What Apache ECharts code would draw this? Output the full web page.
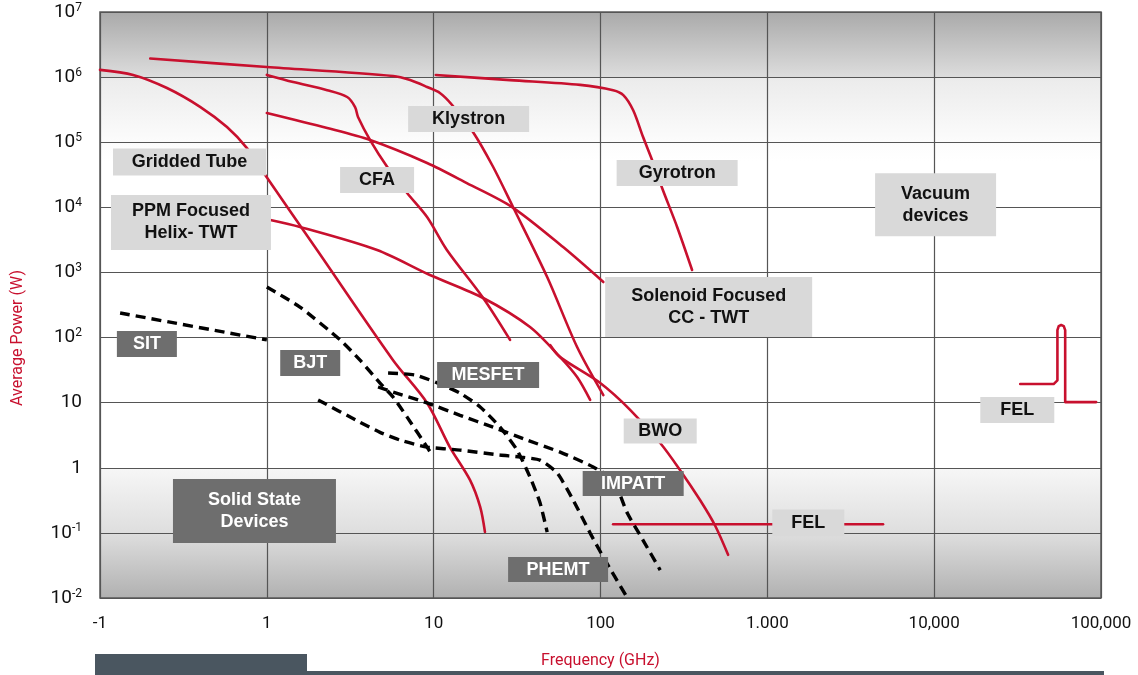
<!DOCTYPE html>
<html>
<head>
<meta charset="utf-8">
<script src="https://cdn.jsdelivr.net/npm/echarts@6/dist/echarts.min.js"></script>
<style>
  html, body { margin: 0; padding: 0; background: #ffffff; }
  #chart { width: 1138px; height: 675px; }
</style>
</head>
<body>
<div id="chart"></div>
<script>
// ---------------- data (frequency GHz, average power W) ----------------
const xTickLabels = ['-1', '1', '10', '100', '1.000', '10,000', '100,000'];
const yTickLabels = ['{b|10}{s|-2}', '{b|10}{s|-1}', '{b|1}', '{b|10}', '{b|10}{s|2}', '{b|10}{s|3}', '{b|10}{s|4}', '{b|10}{s|5}', '{b|10}{s|6}', '{b|10}{s|7}'];

const griddedTube = [[0.1, 1.29e6], [0.158, 1.08e6], [0.252, 6.8e5], [0.4, 3.47e5], [0.577, 1.71e5], [0.76, 8.1e4], [0.98, 3.1e4], [2.0, 2.21e3], [5.71, 45], [9.13, 9.9], [12.5, 2.08], [16.5, 0.65], [19.0, 0.25], [20.3, 0.103]];
const klystron = [[0.2, 1.93e6], [1.0, 1.43e6], [5.71, 1.04e6], [7.23, 9.0e5], [9.13, 7.05e5], [10.9, 5.7e5], [12.9, 3.73e5], [17.2, 1.44e5], [22.7, 4.2e4], [29.9, 1.01e4], [47.9, 850], [72.4, 71.5], [104, 13.1]];
const cfaUpper = [[1.0, 1.08e6], [1.44, 8.4e5], [2.3, 6.3e5], [3.03, 4.95e5], [3.38, 3.47e5], [3.52, 2.44e5], [4.16, 1.08e5], [5.26, 4.2e4], [6.93, 1.66e4], [9.13, 7.1e3], [12.0, 2.21e3], [19.8, 405], [28.7, 92]];
const cfaLower = [[1.0, 2.81e5], [2.3, 1.65e5], [4.16, 1.08e5], [9.13, 4.8e4], [15.8, 2.36e4], [29.5, 1.01e4], [59.7, 2.45e3], [104, 713]];
const ppmHelixTwt = [[1.05, 6.4e3], [1.58, 5.0e3], [4.58, 2.21e3], [9.5, 912], [19.8, 405], [37.8, 145], [57.3, 50], [72.4, 24.7], [86.7, 11]];
const bwo = [[49.9, 76.7], [57.3, 50], [99.6, 20], [151, 7.7], [228, 2.4], [300, 0.92], [395, 0.32], [486, 0.13], [582, 0.046]];
const gyrotron = [[10.3, 1.08e6], [28.7, 9.0e5], [75.5, 7.6e5], [119, 6.3e5], [137, 5.3e5], [157, 3.1e5], [180, 1.2e5], [204, 5.3e4], [234, 1.98e4], [288, 5.0e3], [354, 1.09e3]];
const felLow = [[119, 0.136], [4940, 0.136]];
const felHigh = [[32800, 19.3], [52000, 19.3], [54800, 22], [54800, 130], [55800, 150], [57700, 156], [59800, 150], [61000, 130], [61000, 10.2], [93500, 10.2]];

const sit = [[0.132, 238], [1.0, 92]];
const bjt = [[1.0, 597], [1.58, 294], [2.75, 92], [3.62, 45], [4.77, 20], [5.71, 12.2], [6.93, 6.0], [9.13, 2.08], [9.78, 1.57]];
const mesfet = [[5.33, 28.5], [7.74, 26.6], [10.6, 20], [14.4, 14.0], [19.0, 8.6], [25.0, 4.2], [31.6, 1.87], [37.8, 0.72], [43.4, 0.29], [47.9, 0.103]];
const impatt = [[4.64, 17.4], [5.71, 14.6], [9.13, 9.9], [14.4, 6.4], [22.7, 4.2], [36.3, 2.66], [57.3, 1.74], [90.4, 1.03], [119, 0.65], [145, 0.20], [180, 0.077], [228, 0.0268]];
const phemt = [[2.03, 11], [3.62, 5.0], [4.77, 3.5], [6.3, 2.66], [9.13, 2.08], [14.4, 1.87], [25.0, 1.57], [33.0, 1.46], [43.4, 1.31], [55.0, 0.83], [68.5, 0.32], [86.7, 0.0993], [104, 0.0425], [145, 0.01]];

const lightLabels = ['Gridded Tube', 'PPM Focused\nHelix- TWT', 'CFA', 'Klystron', 'Gyrotron', 'Vacuum\ndevices', 'Solenoid Focused\nCC - TWT', 'BWO', 'FEL', 'FEL'];
const lightAnchors = [[0.344, 4.97e4], [0.351, 5850], [4.58, 2.62e4], [16.2, 2.27e5], [288, 3.37e4], [10200, 1.1e4], [445, 294], [228, 3.66], [31500, 7.7], [1760, 0.1416]];
const darkLabels = ['SIT', 'BJT', 'MESFET', 'IMPATT', 'PHEMT', 'Solid State\nDevices'];
const darkAnchors = [[0.191, 79.4], [1.82, 40.6], [21.2, 26.6], [157, 0.571], [55.7, 0.0273], [0.843, 0.216]];

// ---------------- styles ----------------
const RED = '#c8102e';
const lightBoxSizes = [[153, 27], [160, 55], [74, 26], [121, 26], [121, 26], [121, 63], [207, 60], [73, 25], [74, 26], [72, 27]];
const darkBoxSizes = [[60, 26], [60, 26], [102, 26], [101, 25], [100, 25], [163, 64]];

function redLine(name, data, smooth) {
  return { name, type: 'line', data, symbol: 'none', smooth: smooth === undefined ? 0.3 : smooth, silent: true, z: 3,
    lineStyle: { color: RED, width: 2.6, cap: 'round', join: 'round' } };
}
function dashLine(name, data) {
  return { name, type: 'line', data, symbol: 'none', smooth: 0.2, silent: true, z: 4,
    lineStyle: { color: '#000000', width: 3.4, type: [10, 6] } };
}
function boxes(name, labels, anchors, sizes, bg, fg) {
  return {
    name, type: 'scatter', symbolSize: 0, silent: true, z: 10,
    itemStyle: { opacity: 1 },
    data: labels.map((t, i) => ({
      name: t, value: anchors[i],
      label: {
        show: true, position: 'inside', formatter: t, opacity: 1,
        width: sizes[i][0], height: sizes[i][1], backgroundColor: bg, color: fg,
        fontFamily: '"Liberation Sans", Arial, sans-serif', fontWeight: 'bold', fontSize: 18,
        lineHeight: 22, align: 'center', verticalAlign: 'middle'
      }
    })),
    emphasis: { disabled: true }
  };
}

const chart = echarts.init(document.getElementById('chart'), null, { renderer: 'canvas' });
const option = {
  animation: false,
  grid: {
    left: 100, right: 37, top: 12, bottom: 77, show: true,
    borderColor: '#5a5a5a', borderWidth: 1.5,
    backgroundColor: {
      type: 'linear', x: 0, y: 0, x2: 0, y2: 1,
      colorStops: [
        { offset: 0, color: '#a9a9a9' },
        { offset: 1 / 9, color: '#dcdcdc' },
        { offset: 1 / 9 + 0.002, color: '#ebebeb' },
        { offset: 2 / 9, color: '#fcfcfc' },
        { offset: 2.3 / 9, color: '#ffffff' },
        { offset: 7 / 9, color: '#ffffff' },
        { offset: 7 / 9 + 0.002, color: '#f6f6f6' },
        { offset: 8 / 9, color: '#dedede' },
        { offset: 1, color: '#b0b0b0' }
      ]
    }
  },
  xAxis: {
    type: 'log', logBase: 10, min: 0.1, max: 100000, interval: 1,
    axisLine: { show: false }, axisTick: { show: false },
    splitLine: { show: true, lineStyle: { color: '#555555', width: 1.2 } },
    axisLabel: {
      show: true, showMinLabel: true, showMaxLabel: true, margin: 17,
      fontFamily: 'Roboto, sans-serif', fontSize: 17, color: '#111',
      formatter: v => xTickLabels[Math.round(Math.log10(v)) + 1]
    },
    name: 'Frequency (GHz)', nameLocation: 'middle', nameGap: 55,
    nameTextStyle: { color: RED, fontFamily: 'Roboto, sans-serif', fontSize: 16 }
  },
  yAxis: {
    type: 'log', logBase: 10, min: 0.01, max: 1e7, interval: 1,
    axisLine: { show: false }, axisTick: { show: false },
    splitLine: { show: true, lineStyle: { color: '#555555', width: 1.2 } },
    axisLabel: {
      show: true, showMinLabel: true, showMaxLabel: true, margin: 18,
      formatter: v => yTickLabels[Math.round(Math.log10(v)) + 2],
      rich: {
        b: { fontFamily: 'Roboto, sans-serif', fontSize: 19, color: '#111' },
        s: { fontFamily: 'Roboto, sans-serif', fontSize: 12, color: '#111', padding: [0, 0, 9, 0] }
      }
    }
  },
  graphic: [
    { type: 'text', x: 18, y: 338, rotation: Math.PI / 2, silent: true,
      style: { text: 'Average Power (W)', fill: RED, font: '16px Roboto, sans-serif', textAlign: 'center', textVerticalAlign: 'middle' } },
    { type: 'rect', shape: { x: 95, y: 654, width: 212, height: 21 }, style: { fill: '#4a5660' }, silent: true },
    { type: 'rect', shape: { x: 307, y: 671, width: 797, height: 4 }, style: { fill: '#4a5660' }, silent: true }
  ],
  series: [
    redLine('Gridded Tube', griddedTube),
    redLine('Klystron', klystron),
    redLine('CFA upper', cfaUpper),
    redLine('CFA lower', cfaLower),
    redLine('PPM Focused Helix-TWT', ppmHelixTwt),
    redLine('BWO', bwo),
    redLine('Gyrotron', gyrotron),
    redLine('FEL low', felLow, false),
    redLine('FEL high', felHigh, false),
    dashLine('SIT', sit),
    dashLine('BJT', bjt),
    dashLine('MESFET', mesfet),
    dashLine('IMPATT', impatt),
    dashLine('PHEMT', phemt),
    boxes('vacuum labels', lightLabels, lightAnchors, lightBoxSizes, '#d9d9d9', '#111111'),
    boxes('solid labels', darkLabels, darkAnchors, darkBoxSizes, '#6e6e6e', '#ffffff')
  ]
};
chart.setOption(option);
</script>
</body>
</html>
